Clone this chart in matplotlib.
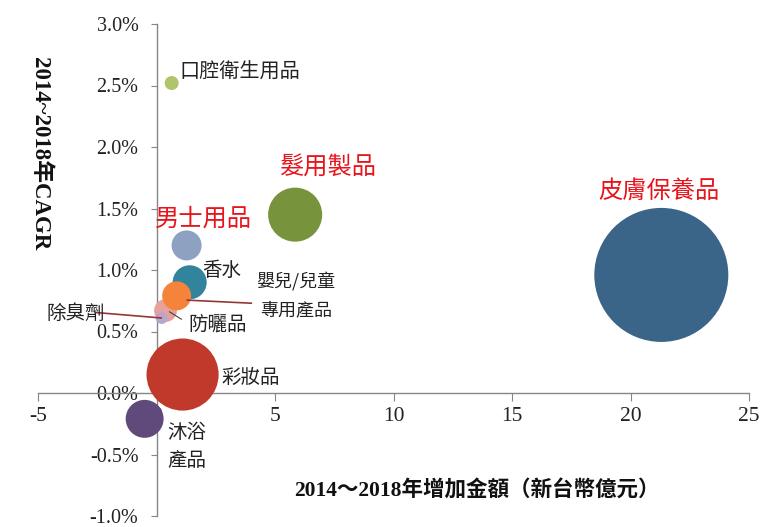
import matplotlib
matplotlib.use("Agg")
import matplotlib.pyplot as plt
from matplotlib import ticker

plt.rcParams['axes.unicode_minus'] = False

categories = ['皮膚保養品', '彩妝品', '髮用製品', '沐浴產品', '香水', '男士用品',
              '嬰兒/兒童專用產品', '防曬品', '除臭劑', '口腔衛生用品']
increase_amount = [21.3, 1.1, 5.85, -0.5, 1.4, 1.27, 0.85, 0.38, 0.22, 0.64]   # 億元
cagr_pct = [0.96, 0.15, 1.45, -0.21, 0.90, 1.20, 0.79, 0.67, 0.61, 2.52]       # %
bubble_size = [449, 130, 73, 36, 29, 22.5, 21, 13, 3.6, 4.9]
colors = ['#3a6488', '#c0392b', '#77933c', '#604a7b', '#31849b', '#8fa1c1',
          '#f5843a', '#e8a09c', '#b8a6cc', '#b0c46c']
x_ticks = [-5, 0, 5, 10, 15, 20, 25]
y_ticks = [-1.0, -0.5, 0.0, 0.5, 1.0, 1.5, 2.0, 2.5, 3.0]

CJK = ['Noto Sans CJK TC', 'DejaVu Sans']
SERIF = ['Liberation Serif', 'Noto Sans CJK TC']

fig = plt.figure(figsize=(7.6, 5.27), dpi=100)
ax = fig.add_axes([38 / 760, 1 - 516 / 527, 711 / 760, 492 / 527])

scale = (2 * 0.72) ** 2 * 10
draw_order = [0, 3, 1, 2, 5, 4, 7, 8, 6, 9]
for i in draw_order:
    ax.scatter(increase_amount[i], cagr_pct[i], s=bubble_size[i] * scale,
               color=colors[i], edgecolors='none', zorder=3)

ax.set_xlim(-5, 25)
ax.set_ylim(-1.0, 3.0)
ax.set_xticks(x_ticks)
ax.set_yticks(y_ticks)
ax.yaxis.set_major_formatter(ticker.FuncFormatter(lambda v, p: f"{v:.1f}%"))
ax.xaxis.set_major_formatter(ticker.FuncFormatter(lambda v, p: f"{v:g}"))

for side in ['top', 'right']:
    ax.spines[side].set_visible(False)
ax.spines['left'].set_position(('data', 0))
ax.spines['bottom'].set_position(('data', 0))
for side in ['left', 'bottom']:
    ax.spines[side].set_color('#868686')
    ax.spines[side].set_linewidth(1.0)
    ax.spines[side].set_zorder(2)

ax.tick_params(axis='y', direction='out', length=4, pad=9, colors='#868686',
               labelcolor='#222222', labelsize=14.5)
ax.tick_params(axis='x', direction='out', length=6, pad=4, colors='#868686',
               labelcolor='#222222', labelsize=15.5)
for lab in ax.get_xticklabels() + ax.get_yticklabels():
    lab.set_family(SERIF)
ax.patch.set_alpha(0)


def lbl(x, y, t, color='#222222', size=14, ha='left', va='center', **kw):
    ax.text(x, y, t, color=color, fontsize=size, ha=ha, va=va, family=CJK,
            zorder=5, **kw)


red = '#e8141c'
lbl(0.95, 2.61, '口腔衛生用品', size=14.5)
lbl(7.2, 1.83, '髮用製品', color=red, size=17.5, ha='center')
lbl(2.0, 1.42, '男士用品', color=red, size=17.5, ha='center')
lbl(21.2, 1.64, '皮膚保養品', color=red, size=17.5, ha='center')
lbl(1.95, 1.00, '香水', size=14)
lbl(5.9, 0.90, '嬰兒/兒童', size=13, ha='center')
lbl(5.9, 0.67, '專用產品', size=13, ha='center')
lbl(1.35, 0.55, '防曬品', size=14)
lbl(-3.4, 0.65, '除臭劑', size=14, ha='center')
lbl(2.75, 0.13, '彩妝品', size=14)
lbl(0.45, -0.32, '沐浴', size=14)
lbl(0.45, -0.55, '產品', size=14)

lc = '#953735'
ax.plot([-2.6, 0.2], [0.655, 0.61], color=lc, lw=1.2, zorder=4)
ax.plot([1.3, 4.0], [0.755, 0.73], color=lc, lw=1.2, zorder=4)
ax.plot([0.55, 1.05], [0.66, 0.60], color='#444444', lw=0.8, zorder=4)

fig.text(477 / 760, 1 - 491 / 527, '2014～2018年增加金額（新台幣億元）',
         fontsize=15.5, fontweight='bold', family=SERIF, ha='center', va='center',
         color='#111111')
fig.text(40 / 760, 1 - 154 / 527, '2014~2018年CAGR', rotation=270,
         fontsize=16.5, fontweight='bold', family=SERIF, ha='center', va='center',
         color='#111111')

fig.savefig('out.png', dpi=100)
